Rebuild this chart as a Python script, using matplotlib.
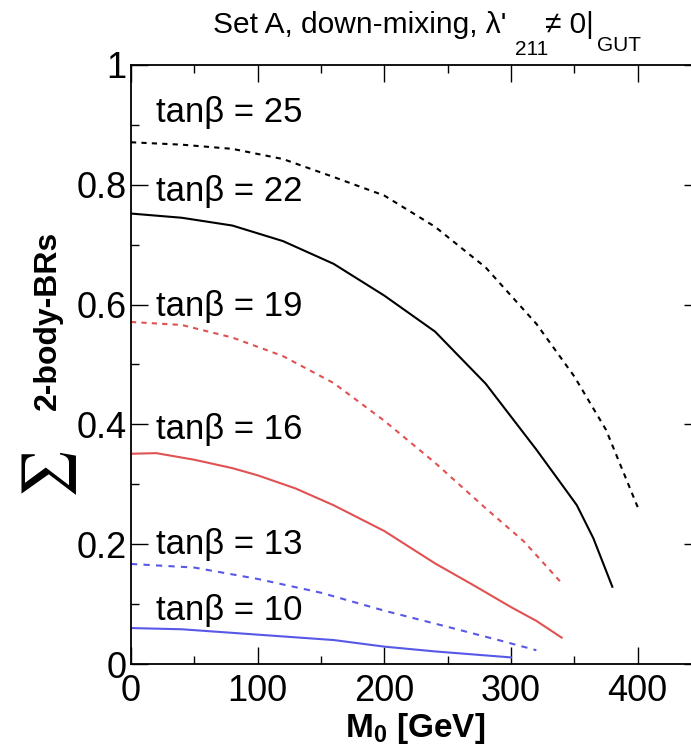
import matplotlib
matplotlib.use("Agg")
import matplotlib.pyplot as plt
from matplotlib.ticker import MultipleLocator, FuncFormatter

plt.rcParams['font.family'] = ['Liberation Sans', 'DejaVu Sans']
plt.rcParams['mathtext.fontset'] = 'custom'
plt.rcParams['mathtext.rm'] = 'Liberation Sans'
plt.rcParams['mathtext.bf'] = 'Liberation Sans:bold'
plt.rcParams['mathtext.it'] = 'Liberation Sans:italic'

# data
m0_tb25 = [0, 40, 80, 120, 160, 200, 240, 280, 320, 350, 375, 400]
br_tb25 = [0.871, 0.867, 0.860, 0.843, 0.813, 0.782, 0.730, 0.662, 0.568, 0.480, 0.391, 0.262]

m0_tb22 = [0, 40, 80, 120, 160, 200, 240, 280, 300, 320, 340, 352, 365, 380]
br_tb22 = [0.752, 0.745, 0.732, 0.706, 0.668, 0.615, 0.555, 0.468, 0.413, 0.358, 0.300, 0.265, 0.210, 0.129]

m0_tb19 = [0, 40, 80, 120, 160, 200, 240, 280, 310, 340]
br_tb19 = [0.571, 0.566, 0.545, 0.514, 0.469, 0.406, 0.336, 0.260, 0.205, 0.135]

m0_tb16 = [0, 20, 50, 80, 100, 130, 160, 200, 240, 270, 300, 320, 340]
br_tb16 = [0.351, 0.352, 0.341, 0.327, 0.315, 0.293, 0.265, 0.222, 0.168, 0.132, 0.095, 0.072, 0.044]

m0_tb13 = [0, 50, 100, 150, 200, 250, 290, 320]
br_tb13 = [0.167, 0.161, 0.142, 0.119, 0.089, 0.062, 0.040, 0.023]

m0_tb10 = [0, 40, 80, 120, 160, 200, 240, 270, 300]
br_tb10 = [0.060, 0.058, 0.052, 0.046, 0.040, 0.029, 0.021, 0.016, 0.011]

tb_labels = ["tanβ = 25", "tanβ = 22", "tanβ = 19", "tanβ = 16", "tanβ = 13", "tanβ = 10"]
label_y = [0.92, 0.789, 0.597, 0.391, 0.199, 0.090]

red = '#e05252'
blue = '#5858e8'

fig = plt.figure(figsize=(6.91, 7.52), dpi=100)
ax = fig.add_axes([131/691, 1-664/752, 570/691, 599/752])

dot = (0, (2.5, 2.5))
ax.plot(m0_tb25, br_tb25, color='black', lw=1.5, ls=dot)
ax.plot(m0_tb22, br_tb22, color='black', lw=1.5)
ax.plot(m0_tb19, br_tb19, color=red, lw=1.5, ls=dot)
ax.plot(m0_tb16, br_tb16, color=red, lw=1.5)
ax.plot(m0_tb13, br_tb13, color=blue, lw=1.5, ls=(0, (3, 3)))
ax.plot(m0_tb10, br_tb10, color=blue, lw=1.5)

for lab, yy in zip(tb_labels, label_y):
    ax.text(20, yy, lab, fontsize=25, ha='left', va='center')

ax.set_xlim(0, 450)
ax.set_ylim(0, 1)
ax.xaxis.set_major_locator(MultipleLocator(100))
ax.xaxis.set_minor_locator(MultipleLocator(50))
ax.yaxis.set_major_locator(MultipleLocator(0.2))
ax.yaxis.set_minor_locator(MultipleLocator(0.1))
ax.yaxis.set_major_formatter(FuncFormatter(lambda v, p: '%g' % round(v, 2)))
ax.tick_params(which='both', direction='in', top=True, right=True, width=1)
ax.tick_params(which='major', length=12, labelsize=26)
ax.tick_params(which='minor', length=6)
ax.tick_params(axis='x', pad=7)
ax.tick_params(axis='y', pad=3)
for s in ax.spines.values():
    s.set_linewidth(1.3)

# axis titles
fig.text(415/691, 1-737/752, r"M$_\mathbf{0}$ [GeV]", fontsize=24, fontweight='bold',
         ha='center', va='baseline')
fig.text(48/691, 1-320/752, "2-body-BRs", fontsize=23, fontweight='bold',
         rotation=90, ha='center', va='center')
fig.text(50/691, 1-474/752, r"$\sum$", fontsize=38, math_fontfamily='stix',
         rotation=90, ha='center', va='center')

# title
fig.text(213/691, 1-33/752, "Set A, down-mixing, λ'", fontsize=21.5, ha='left', va='baseline')
fig.text(515/691, 1-55/752, "211", fontsize=15, ha='left', va='baseline')
fig.text(545/691, 1-33/752, "≠ 0|", fontsize=21.5, ha='left', va='baseline')
fig.text(597/691, 1-51/752, "GUT", fontsize=15, ha='left', va='baseline')

fig.savefig('out.png', dpi=100)
